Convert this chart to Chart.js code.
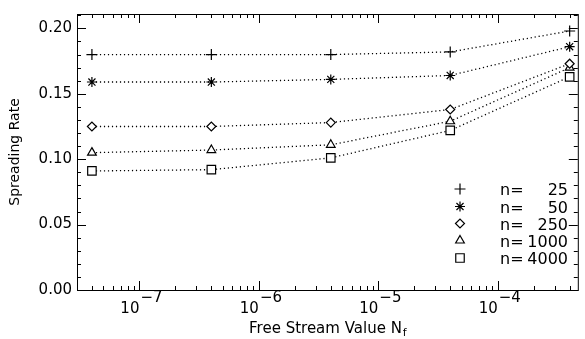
<!DOCTYPE html>
<html>
<head>
<meta charset="utf-8">
<script src="https://cdn.jsdelivr.net/npm/chart.js@4/dist/chart.umd.min.js"></script>
<style>
  body { margin: 0; background: #fff; }
  #wrap { width: 585px; height: 339px; }
</style>
</head>
<body>
<div id="wrap"><canvas id="myChart" width="585" height="339"></canvas></div>
<script>
// free stream values (x) and the spreading rate for every n
const freeStream = [4e-8, 4e-7, 4e-6, 4e-5, 4e-4];
const nValues = [25, 50, 250, 1000, 4000];
const rate25 = [0.180, 0.180, 0.180, 0.182, 0.198];
const rate50 = [0.159, 0.159, 0.161, 0.164, 0.186];
const rate250 = [0.125, 0.125, 0.128, 0.138, 0.173];
const rate1000 = [0.105, 0.107, 0.111, 0.129, 0.170];
const rate4000 = [0.091, 0.092, 0.101, 0.122, 0.163];
const yTicks = [0, 0.05, 0.10, 0.15, 0.20];
const xTickExps = [-7, -6, -5, -4];

const FONT = '"DejaVu Sans", sans-serif';

const symbols = [
  { style: 'cross', radius: 5.5 },
  { style: 'star', radius: 5 },
  { style: 'rectRot', radius: 4.5 },
  { style: 'triangle', radius: 5 },
  { style: 'rect', radius: 6 }
];
const allRates = [rate25, rate50, rate250, rate1000, rate4000];

const datasets = allRates.map((r, i) => ({
  label: 'n=' + nValues[i],
  data: freeStream.map((f, j) => ({ x: f, y: r[j] })),
  borderColor: '#000',
  borderWidth: 1.3,
  borderDash: [1.2, 2.8],
  pointStyle: symbols[i].style,
  pointRadius: symbols[i].radius,
  pointBorderColor: '#000',
  pointBackgroundColor: '#fff',
  pointBorderWidth: 1.2,
  fill: false
}));

// box, inward ticks, x labels with exponents, x title and legend
const framePlugin = {
  id: 'frame',
  afterDraw(chart) {
    const { ctx, chartArea: a, scales: { x, y } } = chart;
    ctx.save();
    ctx.strokeStyle = '#000';
    ctx.lineWidth = 1;
    ctx.strokeRect(a.left + 0.5, a.top + 0.5, a.right - a.left, a.bottom - a.top);

    ctx.beginPath();
    for (let i = 0; i <= 21; i++) {
      const py = Math.round(y.getPixelForValue(i / 100)) + 0.5;
      const len = i % 5 === 0 ? 9 : 4;
      ctx.moveTo(a.left, py); ctx.lineTo(a.left + len, py);
      ctx.moveTo(a.right, py); ctx.lineTo(a.right - len, py);
    }
    for (let e = -8; e <= -3; e++) {
      for (let m = 1; m <= 9; m++) {
        const v = m * Math.pow(10, e);
        if (v < x.min || v > x.max) continue;
        const px = Math.round(x.getPixelForValue(v)) + 0.5;
        const len = m === 1 ? 9 : 4;
        ctx.moveTo(px, a.bottom); ctx.lineTo(px, a.bottom - len);
        ctx.moveTo(px, a.top); ctx.lineTo(px, a.top + len);
      }
    }
    ctx.stroke();

    ctx.fillStyle = '#000';
    xTickExps.forEach(e => {
      const px = x.getPixelForValue(Math.pow(10, e));
      ctx.font = '15px ' + FONT;
      ctx.textAlign = 'right';
      ctx.fillText('10', px, 313);
      ctx.font = '15px ' + FONT;
      ctx.textAlign = 'left';
      ctx.fillText('\u2212' + Math.abs(e), px + 1, 302);
    });

    // x title with subscript
    ctx.font = '15px ' + FONT;
    const main = 'Free Stream Value N';
    const w1 = ctx.measureText(main).width;
    ctx.font = '11px ' + FONT;
    const w2 = ctx.measureText('f').width;
    const cx = (a.left + a.right) / 2;
    const sx = cx - (w1 + w2) / 2;
    ctx.textAlign = 'left';
    ctx.font = '15px ' + FONT;
    ctx.fillText(main, sx, 333);
    ctx.font = '11px ' + FONT;
    ctx.fillText('f', sx + w1 + 1, 336);

    // legend
    const rowY = [189, 206.5, 223.5, 240.5, 258];
    nValues.forEach((n, i) => {
      ctx.strokeStyle = '#000';
      ctx.fillStyle = '#fff';
      ctx.lineWidth = 1.2;
      Chart.helpers.drawPoint(ctx, {
        pointStyle: symbols[i].style,
        radius: symbols[i].radius,
        rotation: 0,
        borderWidth: 1.2
      }, 460, rowY[i]);
      ctx.fillStyle = '#000';
      ctx.font = '16px ' + FONT;
      ctx.textAlign = 'left';
      ctx.fillText('n=', 500, rowY[i] + 6);
      ctx.textAlign = 'right';
      ctx.fillText(String(n), 568, rowY[i] + 6);
    });
    ctx.restore();
  }
};

const ctx = document.getElementById('myChart');
new Chart(ctx, {
  type: 'line',
  data: { datasets: datasets },
  options: {
    responsive: false,
    animation: false,
    layout: { padding: { top: 8, right: 2, left: 0, bottom: 0 } },
    plugins: { legend: { display: false }, tooltip: { enabled: false } },
    scales: {
      x: {
        type: 'logarithmic',
        min: 3.13e-8,
        max: 4.68e-4,
        grid: { display: false },
        border: { display: false },
        ticks: { display: false },
        afterFit(scale) { scale.height = 49; }
      },
      y: {
        type: 'linear',
        min: 0,
        max: 0.211,
        grid: { display: false, drawTicks: false },
        border: { display: false },
        afterBuildTicks(scale) { scale.ticks = yTicks.map(v => ({ value: v })); },
        ticks: {
          color: '#000',
          padding: 5,
          font: { family: FONT, size: 15 },
          callback: v => Number(v).toFixed(2)
        },
        title: {
          display: true,
          text: 'Spreading Rate',
          color: '#000',
          font: { family: FONT, size: 14 },
          padding: { top: 7, bottom: 0 }
        },
        afterFit(scale) { scale.width = 77; }
      }
    }
  },
  plugins: [framePlugin]
});
</script>
</body>
</html>
